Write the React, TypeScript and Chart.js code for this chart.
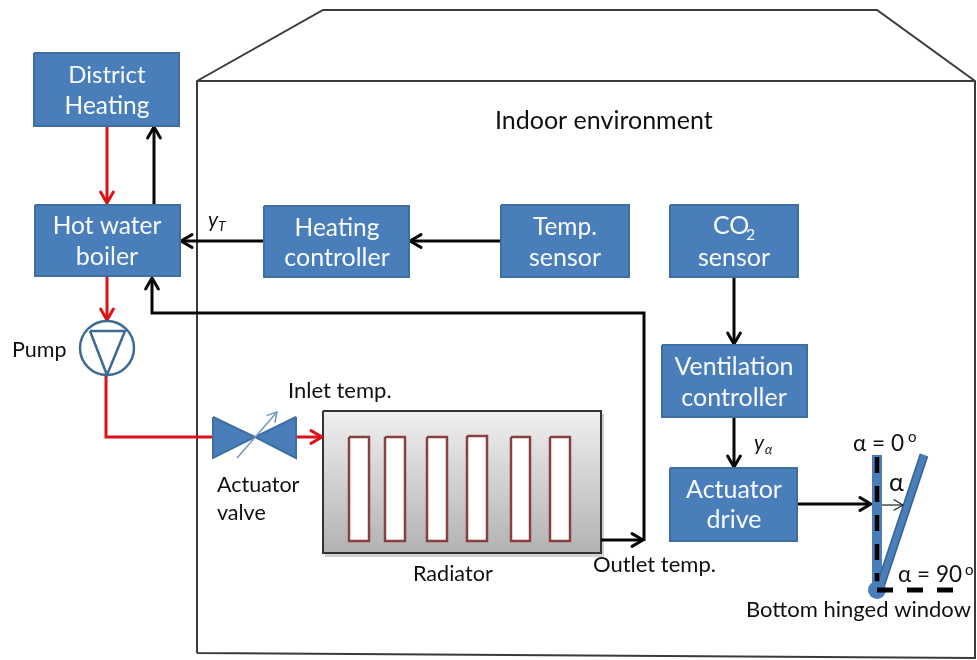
import React, { useEffect, useRef } from "react";
import { Chart, registerables } from "chart.js";

Chart.register(...registerables);

type P = [number, number];

const BLUE = "#4a7ebb";
const BLUE_EDGE = "#3f6f9f";
const BLACK = "#060606";
const RED = "#dd1118";
const WALL = "#3a3a3a";

const houseOutline: P[] = [[197, 653], [197, 81], [323, 10], [877, 10], [975, 81], [975, 658], [197, 653]];
const houseCeiling: P[] = [[197, 81], [975, 81]];

// x1, y1, x2, y2
const blueBoxes: number[][] = [
  [34, 53, 179, 126],
  [35, 205, 180, 276],
  [264, 206, 409, 277],
  [501, 205, 629, 277],
  [670, 205, 798, 277],
  [662, 345, 807, 417],
  [670, 468, 797, 541],
];
const radiatorBody = [323, 411, 601, 553];
const radiatorSlots: number[][] = [
  [349, 437, 369, 541],
  [385, 437, 405, 541],
  [427, 437, 447, 541],
  [467, 436, 487, 541],
  [511, 437, 530, 541],
  [550, 437, 570, 541],
];

const blackArrows: P[][] = [
  [[154, 207], [154, 127]],
  [[264, 241], [181, 241]],
  [[501, 241], [410, 241]],
  [[644, 541], [644, 313], [152, 313], [152, 278]],
  [[601, 540], [643, 540]],
  [[734, 277], [734, 344]],
  [[734, 417], [734, 467]],
  [[797, 504], [871, 504]],
];
const redArrows: P[][] = [
  [[107, 126], [107, 203]],
  [[107, 276], [107, 320]],
  [[296, 437], [322, 437]],
];
const redPipe: P[] = [[106, 375], [106, 437], [213, 437]];

const valveLeft: P[] = [[213, 417], [213, 458], [255, 437], [213, 417]];
const valveRight: P[] = [[296, 417], [296, 458], [255, 437], [296, 417]];
const valveStem: P[] = [[237, 458], [277, 412]];
const pumpCentre: P = [107, 348];
const pumpTriangle: P[] = [[90, 331], [125, 331], [107, 375], [90, 331]];

const closedLeaf: P[] = [[877, 455], [877, 590]];
const openLeaf: P[] = [[879, 590], [924, 455]];
const closedMark: P[] = [[877, 457], [877, 590]];
const openMark: P[] = [[877, 590], [955, 590]];
const hinge: P = [877, 590];
const angleArrow: P[] = [[882, 505], [903, 505]];

type Label = { t: string; x: number; y: number; s: number; c?: string; a?: CanvasTextAlign; i?: boolean };

const WHITE = "#f8fbfe";
const INK = "#101010";
const labels: Label[] = [
  { t: "District", x: 107, y: 83, s: 24, c: WHITE, a: "center" },
  { t: "Heating", x: 107, y: 114, s: 24.5, c: WHITE, a: "center" },
  { t: "Hot water", x: 107, y: 234, s: 24.5, c: WHITE, a: "center" },
  { t: "boiler", x: 107, y: 265, s: 25, c: WHITE, a: "center" },
  { t: "Heating", x: 337, y: 236, s: 24.5, c: WHITE, a: "center" },
  { t: "controller", x: 337, y: 266, s: 25, c: WHITE, a: "center" },
  { t: "Temp.", x: 565, y: 235, s: 24.5, c: WHITE, a: "center" },
  { t: "sensor", x: 565, y: 266, s: 25, c: WHITE, a: "center" },
  { t: "CO", x: 713, y: 234, s: 25, c: WHITE },
  { t: "2", x: 746, y: 240, s: 16, c: WHITE },
  { t: "sensor", x: 734, y: 266, s: 25, c: WHITE, a: "center" },
  { t: "Ventilation", x: 734, y: 375, s: 25, c: WHITE, a: "center" },
  { t: "controller", x: 734, y: 406, s: 25, c: WHITE, a: "center" },
  { t: "Actuator", x: 734, y: 498, s: 25, c: WHITE, a: "center" },
  { t: "drive", x: 734, y: 528, s: 25, c: WHITE, a: "center" },
  { t: "Indoor environment", x: 495, y: 129, s: 25 },
  { t: "Pump", x: 12, y: 357, s: 21.5 },
  { t: "Inlet temp.", x: 288, y: 398, s: 22 },
  { t: "Actuator", x: 217, y: 492, s: 21.5 },
  { t: "valve", x: 217, y: 520, s: 21.5 },
  { t: "Radiator", x: 413, y: 581, s: 21.6 },
  { t: "Outlet temp.", x: 593, y: 572, s: 22 },
  { t: "α = 0", x: 853, y: 451, s: 22.5 },
  { t: "o", x: 908, y: 442, s: 15 },
  { t: "α", x: 889, y: 491, s: 25 },
  { t: "α = 90", x: 898, y: 582, s: 22.5 },
  { t: "o", x: 965, y: 575, s: 15 },
  { t: "Bottom hinged window", x: 746, y: 617, s: 22 },
  { t: "y", x: 208, y: 227, s: 21, i: true },
  { t: "T", x: 218, y: 231, s: 14, i: true },
  { t: "y", x: 754, y: 450, s: 21, i: true },
  { t: "α", x: 765, y: 454, s: 13, i: true },
];

const xy = (p: P[]) => p.map(([x, y]) => ({ x, y }));
const rect = (b: number[]): P[] => [[b[0], b[1]], [b[2], b[1]], [b[2], b[3]], [b[0], b[3]], [b[0], b[1]]];

function chevron(path: P[], size: number): P[] {
  const [ax, ay] = path[path.length - 2];
  const [bx, by] = path[path.length - 1];
  const l = Math.hypot(bx - ax, by - ay);
  const ux = (bx - ax) / l;
  const uy = (by - ay) / l;
  const w = size * 0.58;
  return [
    [bx - ux * size - uy * w, by - uy * size + ux * w],
    [bx, by],
    [bx - ux * size + uy * w, by - uy * size - ux * w],
  ];
}

const stroke = (p: P[], color: string, w: number, extra: object = {}) => ({
  data: xy(p),
  showLine: true,
  borderColor: color,
  borderWidth: w,
  pointRadius: 0,
  fill: false,
  tension: 0,
  borderJoinStyle: "miter",
  ...extra,
});
const head = (p: P[], size: number, color: string, w: number) =>
  stroke(chevron(p, size), color, w, { borderJoinStyle: "round", borderCapStyle: "round" });
const polygon = (p: P[], fillColor: unknown, edge: string, w: number) =>
  stroke(p, edge, w, { fill: "shape", backgroundColor: fillColor });
const dot = (p: P, r: number, fillColor: string, edge: string, w: number) => ({
  data: xy([p]),
  showLine: false,
  pointRadius: r,
  pointBackgroundColor: fillColor,
  pointBorderColor: edge,
  pointBorderWidth: w,
});

const labelPlugin = {
  id: "labels",
  afterDatasetsDraw(chart: Chart) {
    const { ctx, scales } = chart;
    ctx.save();
    ctx.textBaseline = "alphabetic";
    for (const l of labels) {
      ctx.font = `${l.i ? "italic " : ""}${l.s}px Lato, "Open Sans", sans-serif`;
      ctx.fillStyle = l.c ?? INK;
      ctx.textAlign = l.a ?? "left";
      ctx.fillText(l.t, scales.x.getPixelForValue(l.x), scales.y.getPixelForValue(l.y));
    }
    ctx.restore();
  },
};

export default function App() {
  const ref = useRef<HTMLCanvasElement>(null);
  useEffect(() => {
    const canvas = ref.current!;
    const radiatorFill = (c: any) => {
      const y = c.chart.scales.y;
      const top = y ? y.getPixelForValue(radiatorBody[1]) : NaN;
      const bottom = y ? y.getPixelForValue(radiatorBody[3]) : NaN;
      if (!Number.isFinite(top) || !Number.isFinite(bottom)) return "#d0d0d0";
      const g = c.chart.ctx.createLinearGradient(0, top, 0, bottom);
      g.addColorStop(0, "#f0f0f0");
      g.addColorStop(1, "#b2b2b2");
      return g;
    };
    const shadowBox = [radiatorBody[0] + 2, radiatorBody[1] + 3, radiatorBody[2] + 3, radiatorBody[3] + 4];
    const paint: any[] = [
      stroke(houseOutline, WALL, 2),
      stroke(houseCeiling, WALL, 2),
      polygon(rect(shadowBox), "rgba(0,0,0,0.18)", "rgba(0,0,0,0)", 0),
      polygon(rect(radiatorBody), radiatorFill, "#333333", 2),
      ...radiatorSlots.map((s) => polygon(rect(s), "#ffffff", "#8a4040", 2.5)),
      ...blackArrows.map((p) => stroke(p, BLACK, 3)),
      ...blackArrows.map((p) => head(p, 11, BLACK, 3)),
      stroke(redPipe, RED, 3),
      ...redArrows.map((p) => stroke(p, RED, 3)),
      ...redArrows.map((p) => head(p, 11, RED, 3)),
      ...blueBoxes.map((b) => polygon(rect(b), BLUE, BLUE_EDGE, 2)),
      polygon(valveLeft, BLUE, BLUE_EDGE, 2),
      polygon(valveRight, BLUE, BLUE_EDGE, 2),
      stroke(valveStem, "#6f97c4", 1.5),
      head(valveStem, 9, "#6f97c4", 1.5),
      dot(pumpCentre, 27, "#ffffff", "#3f6a94", 2.5),
      stroke(pumpTriangle, "#3f6a94", 2.5),
      stroke(closedLeaf, BLUE, 10),
      stroke(openLeaf, "#35618f", 9),
      stroke(openLeaf, "#4a7ebb", 6),
      stroke(closedMark, "#000000", 4.5, { borderDash: [16, 13] }),
      dot(hinge, 9, BLUE, BLUE, 0),
      stroke(openMark, "#000000", 5, { borderDash: [16, 14] }),
      stroke(angleArrow, "#222222", 1.2),
      head(angleArrow, 9, "#222222", 1.2),
    ];
    const chart = new Chart(canvas, {
      type: "scatter",
      data: { datasets: paint.map((d, i) => ({ ...d, order: paint.length - i, clip: false })) },
      options: {
        animation: false,
        responsive: false,
        layout: { padding: 0, autoPadding: false },
        plugins: { legend: { display: false }, tooltip: { enabled: false } },
        scales: {
          x: { type: "linear", min: 0, max: 977, display: false },
          y: { type: "linear", min: 0, max: 660, reverse: true, display: false },
        },
      },
      plugins: [labelPlugin],
    } as any);
    return () => chart.destroy();
  }, []);
  return (
    <div style={{ position: "absolute", left: 0, top: 0, width: 977, height: 660, background: "#fff", overflow: "hidden" }}>
      <canvas ref={ref} width={977} height={660} style={{ display: "block", filter: "blur(0.5px)" }} />
    </div>
  );
}
